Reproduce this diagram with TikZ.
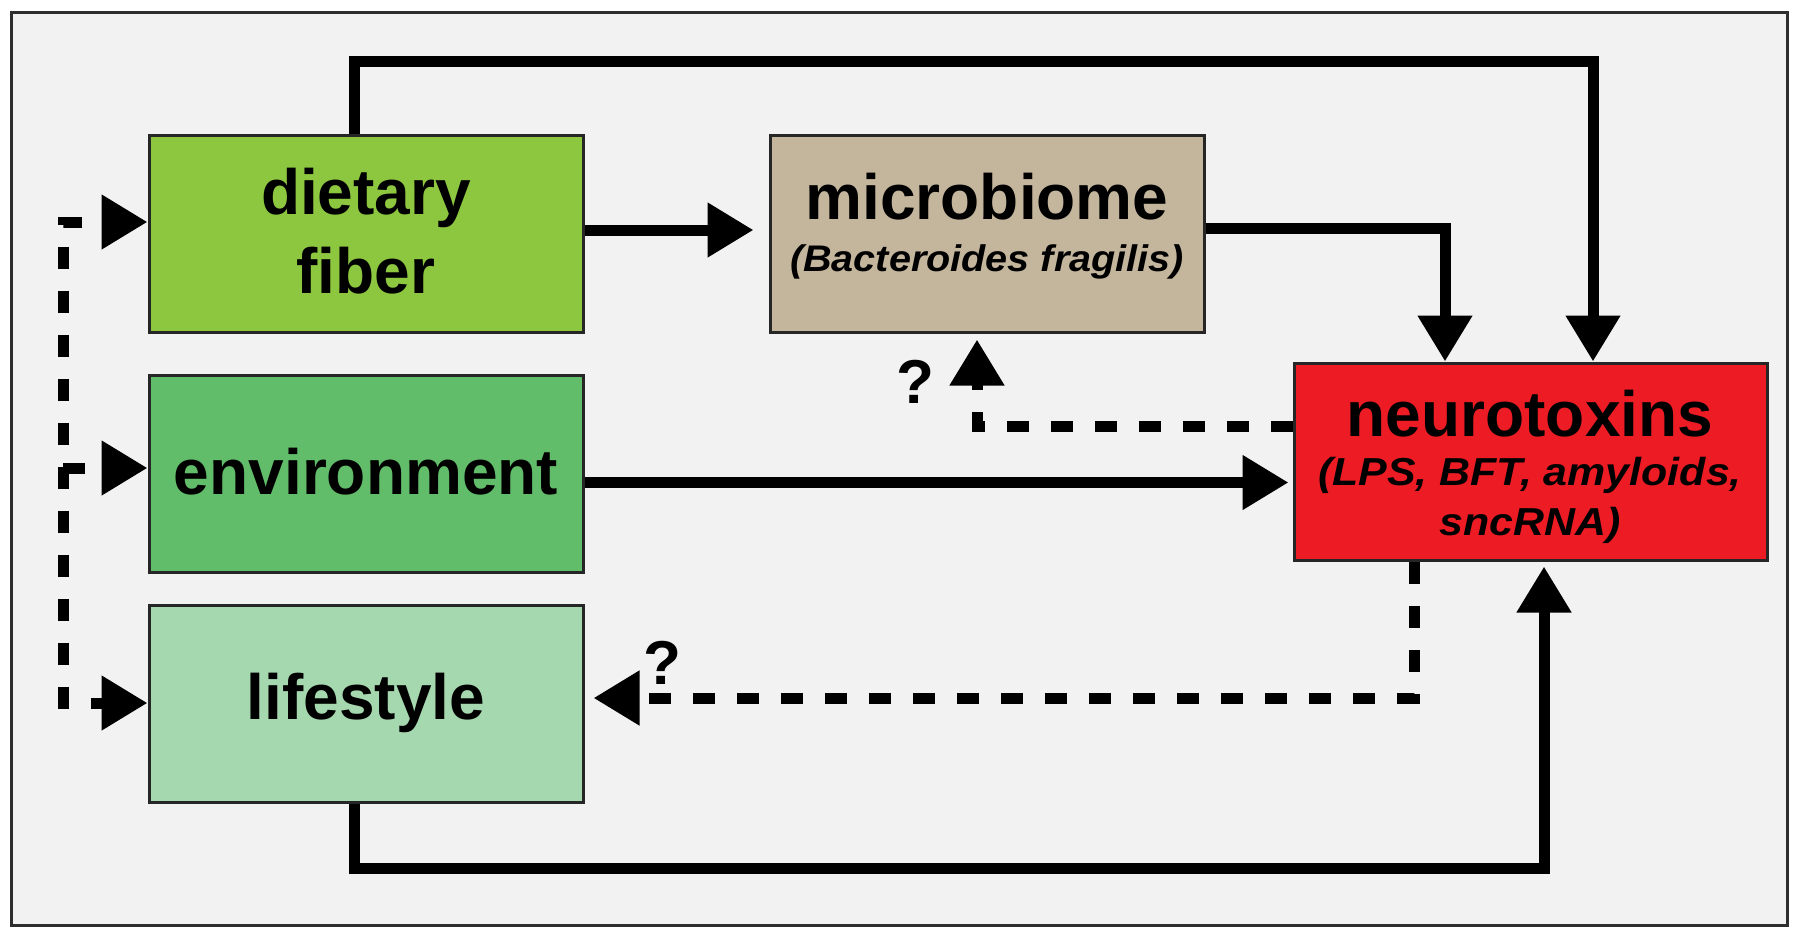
\documentclass[tikz,border=0pt]{standalone}
\usepackage{fontspec}
\setmainfont{Liberation Sans}
\newfontfamily\mbsub[FakeStretch=1.07]{Liberation Sans}
\newfontfamily\ntsub[FakeStretch=1.1]{Liberation Sans}
\usetikzlibrary{arrows.meta}
\definecolor{bgc}{HTML}{F2F2F2}
\definecolor{fiberc}{HTML}{8DC63F}
\definecolor{envc}{HTML}{62BD6A}
\definecolor{lifec}{HTML}{A6D8B0}
\definecolor{microc}{HTML}{C4B59D}
\definecolor{neuroc}{HTML}{ED1C24}
\definecolor{framec}{HTML}{2E2E2E}
\tikzset{
  box/.style={draw=black!85, line width=3pt, inner sep=0pt, minimum height=197pt},
  conn/.style={line width=11pt, -{Triangle[length=46pt,width=52pt]}},
  dconn/.style={conn, dash pattern=on 22pt off 22pt},
  big/.style={font=\fontsize{64}{77}\selectfont\bfseries, inner sep=0pt, anchor=base},
  mbsubtext/.style={font=\fontsize{37}{44}\selectfont\mbsub\bfseries\itshape, inner sep=0pt, anchor=base},
  ntsubtext/.style={font=\fontsize{39}{46}\selectfont\ntsub\bfseries\itshape, inner sep=0pt, anchor=base},
  qmark/.style={font=\fontsize{62}{72}\selectfont\bfseries, inner sep=0pt, anchor=base}
}
\begin{document}
\begin{tikzpicture}[x=1pt,y=-1pt]
\useasboundingbox (0,0) rectangle (1800,938);
\fill[white] (0,0) rectangle (1800,938);
\draw[framec, line width=3pt, fill=bgc] (11,12) rectangle (1787,925);

% boxes
\node[box, fill=fiberc, minimum width=434pt] (fiber) at (366,233.5) {};
\node[box, fill=envc, minimum width=434pt] (env) at (366,473.5) {};
\node[box, fill=lifec, minimum width=434pt] (life) at (366,703.5) {};
\node[box, fill=microc, minimum width=434pt] (micro) at (987,233.5) {};
\node[box, fill=neuroc, minimum width=473pt] (neuro) at (1530.5,461.5) {};

% texts
\node[big] (tfiber1) at (366,214) {dietary};
\node[big] (tfiber2) at (366,293) {fiber};
\node[big] (tenv) at (366,494) {environment};
\node[big] (tlife) at (366,719) {lifestyle};
\node[big] (tmicro) at (987,219) {microbiome};
\node[mbsubtext] (tmicrosub) at (987,271) {(Bacteroides fragilis)};
\node[big] (tneuro) at (1530,436) {neurotoxins};
\node[ntsubtext] (tneurosub1) at (1530,485) {(LPS, BFT, amyloids,};
\node[ntsubtext] (tneurosub2) at (1530,535) {sncRNA)};
\node[qmark] (q1) at (915,403) {?};
\node[qmark] (q2) at (662,684) {?};

% helper coordinates
\coordinate (topR) at (1593,61);
\coordinate (mbR) at (1445,228);
\coordinate (lbR) at (1544,868);
\coordinate (lTop) at (63,222);
\coordinate (lMid) at (63,468);
\coordinate (lBot) at (63,703);

% solid connectors
\draw[conn] ([xshift=-12pt]fiber.north) |- (topR) -- (topR |- neuro.north);
\draw[conn] (micro.east |- mbR) -- (mbR) -- (mbR |- neuro.north);
\draw[conn, shorten >=15pt] ([yshift=3.5pt]fiber.east) -- ([yshift=3.5pt]micro.west);
\draw[conn, shorten >=4pt] ([yshift=-9pt]env.east) -- ([yshift=-9pt]env.east -| neuro.west);
\draw[conn, shorten >=5pt] ([xshift=-12pt]life.south) |- (lbR) -- (lbR |- neuro.south);

% dashed connectors
\draw[dconn, shorten >=6pt] ([yshift=35.5pt]neuro.west) -| ([xshift=-10pt]micro.south);
\draw[dconn, shorten >=9pt] ([xshift=-116.5pt]neuro.south) |- ([yshift=5.5pt]life.east);
\draw[dconn, dash phase=22pt, {Triangle[length=46pt,width=52pt]}-{Triangle[length=46pt,width=52pt]}] (lTop -| fiber.west) -- (lTop) -- (lBot) -- (lBot -| life.west);
\draw[dconn] (lMid) -- (lMid -| env.west);
\end{tikzpicture}
\end{document}
